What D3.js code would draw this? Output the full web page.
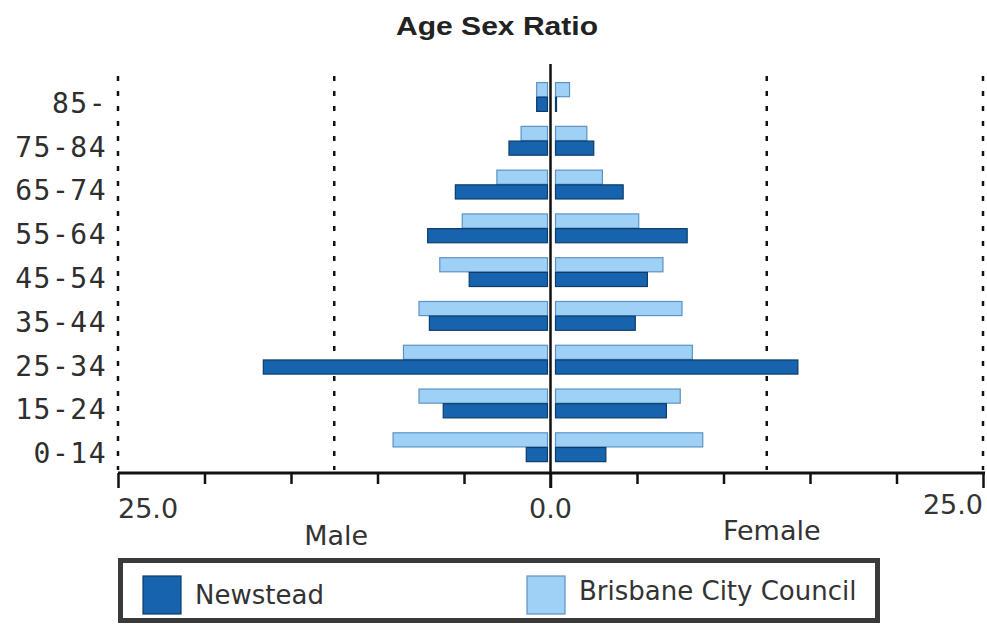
<!DOCTYPE html>
<html>
<head>
<meta charset="utf-8">
<script src="https://cdn.jsdelivr.net/npm/d3@7"></script>
<style>
  body { margin: 0; background: #fff; }
  svg { display: block; }
</style>
</head>
<body>
<svg class="pyramid" width="987" height="624"></svg>
<script>
// age groups, top to bottom
const ageGroups = ['85-', '75-84', '65-74', '55-64', '45-54', '35-44', '25-34', '15-24', '0-14'];
const seriesNames = ['Brisbane City Council', 'Newstead'];

// percent of population
const maleBrisbane   = [0.8, 1.7, 3.1, 5.1, 6.4, 7.6, 8.5, 7.6, 9.1];
const maleNewstead   = [0.8, 2.4, 5.5, 7.1, 4.7, 7.0, 16.6, 6.2, 1.4];
const femaleBrisbane = [1.1, 2.1, 3.0, 5.1, 6.5, 7.6, 8.2, 7.5, 8.8];
const femaleNewstead = [0.2, 2.5, 4.2, 7.9, 5.6, 4.9, 14.3, 6.7, 3.2];

const axisTicks = [-25, -20, -15, -10, -5, 0, 5, 10, 15, 20, 25];
const axisLabels = [-25, 0, 25];
const gridLines = [-25, -12.5, 12.5, 25];

const colors = {
    'Newstead': { fill: '#1763ad', edge: '#0b3c6c' },
    'Brisbane City Council': { fill: '#9fd1f6', edge: '#5b93c4' }
};

makeChart()

function makeChart() {
    const svg = d3.select('.pyramid');
    const axisY = 473;

    const x = d3.scaleLinear()
        .domain([-25, 25])
        .range([118, 983]);

    const y = d3.scaleBand()
        .domain(ageGroups)
        .range([75, 469]);

    const ySub = d3.scaleBand()
        .domain(seriesNames)
        .range([7, 37])
        .padding(0.04);

    // title
    svg.append('text')
        .attr('x', 497)
        .attr('y', 35)
        .attr('text-anchor', 'middle')
        .attr('font-family', 'Liberation Sans, Arial, sans-serif')
        .attr('font-weight', 'bold')
        .attr('font-size', 26)
        .attr('textLength', 202)
        .attr('lengthAdjust', 'spacingAndGlyphs')
        .attr('fill', '#222')
        .text('Age Sex Ratio');

    // dashed gridlines
    svg.append('g')
        .selectAll('line')
        .data(gridLines)
        .join('line')
        .attr('x1', d => x(d))
        .attr('x2', d => x(d))
        .attr('y1', 76)
        .attr('y2', axisY - 3)
        .attr('stroke', '#111')
        .attr('stroke-width', 2.5)
        .attr('stroke-dasharray', '5 10');

    // bars
    const rows = [];
    ageGroups.forEach((g, i) => {
        rows.push({ group: g, series: 'Brisbane City Council', side: 'm', v: maleBrisbane[i] });
        rows.push({ group: g, series: 'Newstead', side: 'm', v: maleNewstead[i] });
        rows.push({ group: g, series: 'Brisbane City Council', side: 'f', v: femaleBrisbane[i] });
        rows.push({ group: g, series: 'Newstead', side: 'f', v: femaleNewstead[i] });
    });

    const gapM = 3, gapF = 5;
    svg.append('g')
        .selectAll('rect')
        .data(rows)
        .join('rect')
        .attr('x', d => d.side === 'm' ? x(-d.v) : x(0) + gapF)
        .attr('width', d => d.side === 'm'
            ? Math.max(1, x(0) - gapM - x(-d.v))
            : Math.max(1, x(d.v) - x(0) - gapF))
        .attr('y', d => y(d.group) + ySub(d.series))
        .attr('height', ySub.bandwidth())
        .attr('fill', d => colors[d.series].fill)
        .attr('stroke', d => colors[d.series].edge)
        .attr('stroke-width', 1.2);

    // age labels
    svg.append('g')
        .selectAll('text')
        .data(ageGroups)
        .join('text')
        .attr('x', 107)
        .attr('y', d => y(d) + y.bandwidth() / 2 + 16)
        .attr('text-anchor', 'end')
        .attr('font-family', 'DejaVu Sans Mono, monospace')
        .attr('font-size', 28)
        .attr('letter-spacing', 1.5)
        .attr('fill', '#2e2e2e')
        .text(d => d);

    // bottom axis
    const axis = svg.append('g')
        .attr('transform', `translate(0, ${axisY})`)
        .call(d3.axisBottom(x).tickValues(axisTicks).tickSize(11).tickFormat('').tickSizeOuter(0));
    axis.select('.domain')
        .attr('stroke', '#111')
        .attr('stroke-width', 3)
        .attr('d', `M${x(-25)},0H${x(25) + 2}`);
    axis.selectAll('.tick line')
        .attr('stroke', '#111')
        .attr('stroke-width', 2.5)
        .attr('y2', d => d % 25 === 0 ? 15 : 11);

    // centre line
    svg.append('line')
        .attr('x1', x(0))
        .attr('x2', x(0))
        .attr('y1', 64)
        .attr('y2', axisY + 15)
        .attr('stroke', '#111')
        .attr('stroke-width', 2.5);

    svg.append('g')
        .selectAll('text')
        .data(axisLabels)
        .join('text')
        .attr('x', d => x(d))
        .attr('y', d => d === 25 ? 514 : 518)
        .attr('text-anchor', d => d < 0 ? 'start' : d > 0 ? 'end' : 'middle')
        .attr('font-family', 'DejaVu Sans, sans-serif')
        .attr('font-size', 27)
        .attr('fill', '#333')
        .text(d => Math.abs(d).toFixed(1));

    svg.append('text')
        .attr('x', x(-12.5) + 2)
        .attr('y', 545)
        .attr('text-anchor', 'middle')
        .attr('font-family', 'DejaVu Sans, sans-serif')
        .attr('font-size', 27)
        .attr('fill', '#333')
        .text('Male');

    svg.append('text')
        .attr('x', x(12.5) + 5)
        .attr('y', 540)
        .attr('text-anchor', 'middle')
        .attr('font-family', 'DejaVu Sans, sans-serif')
        .attr('font-size', 27)
        .attr('fill', '#333')
        .text('Female');

    // legend
    const legend = svg.append('g');
    legend.append('rect')
        .attr('x', 120.5)
        .attr('y', 560.5)
        .attr('width', 757)
        .attr('height', 60)
        .attr('fill', '#fff')
        .attr('stroke', '#3a3a3a')
        .attr('stroke-width', 5);

    const legendItems = [
        { name: 'Newstead', x: 143 },
        { name: 'Brisbane City Council', x: 527 }
    ];
    legend.selectAll('rect.swatch')
        .data(legendItems)
        .join('rect')
        .attr('class', 'swatch')
        .attr('x', d => d.x)
        .attr('y', 576)
        .attr('width', 38)
        .attr('height', 38)
        .attr('fill', d => colors[d.name].fill)
        .attr('stroke', d => colors[d.name].edge)
        .attr('stroke-width', 1.2);

    legend.selectAll('text')
        .data(legendItems)
        .join('text')
        .attr('x', d => d.x + 52)
        .attr('y', d => d.name === 'Newstead' ? 604 : 600)
        .attr('font-family', 'DejaVu Sans, sans-serif')
        .attr('font-size', 26)
        .attr('fill', '#333')
        .text(d => d.name);
}
</script>
</body>
</html>
